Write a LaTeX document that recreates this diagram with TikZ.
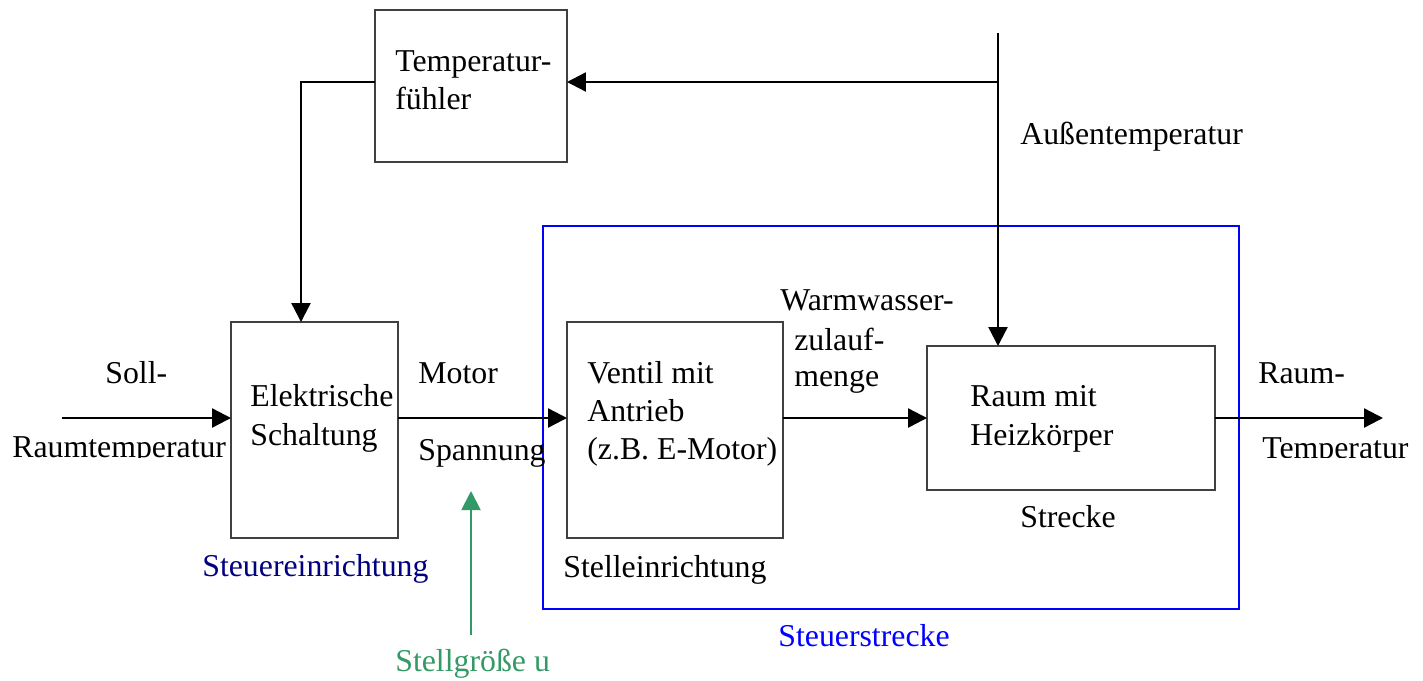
\documentclass[tikz,border=0pt]{standalone}
\usepackage{fontspec}
\setmainfont{Liberation Serif}
\usetikzlibrary{arrows.meta}
\definecolor{stellgruen}{RGB}{51,153,102}
\definecolor{steuerblau}{RGB}{0,0,128}
\definecolor{streckeblau}{RGB}{0,0,255}
\definecolor{rahmengrau}{RGB}{64,64,64}

\begin{document}
\begin{tikzpicture}[x=0.02cm,y=-0.02cm,>={Triangle[length=0.38cm,width=0.38cm]},
  font=\fontsize{18.1}{21.6}\selectfont,
  block/.style={draw=rahmengrau,line width=1.1pt,inner sep=0pt,outer sep=0pt},
  lbl/.style={anchor=base west,inner sep=0pt},
  sig/.style={->,line width=1.3pt}]
\useasboundingbox (0,0) rectangle (1423,680);

% Steuerstrecke
\node[draw=streckeblau,line width=1.1pt,inner sep=0pt,minimum width=13.92cm,minimum height=7.66cm] (strecke) at (891,417.5) {};

% Bloecke
\node[block,minimum width=3.84cm,minimum height=3.04cm] (fuehler) at (471,86) {};
\node[block,minimum width=3.34cm,minimum height=4.32cm] (schalt) at (314.5,430) {};
\node[block,minimum width=4.32cm,minimum height=4.32cm] (ventil) at (675,430) {};
\node[block,minimum width=5.76cm,minimum height=2.88cm] (raum) at (1071,418) {};

% Texte in den Bloecken
\node[lbl] (fuehlerA) at (395,71) {Temperatur-};
\node[lbl] (fuehlerB) at (395,109) {fühler};
\node[lbl] (schaltA) at (250,406) {Elektrische};
\node[lbl] (schaltB) at (250,445) {Schaltung};
\node[lbl] (ventilA) at (587,383) {Ventil mit};
\node[lbl] (ventilB) at (587,421) {Antrieb};
\node[lbl] (ventilC) at (587,459) {(z.B. E-Motor)};
\node[lbl] (raumA) at (970,406) {Raum mit};
\node[lbl] (raumB) at (970,445) {Heizkörper};

% Signale
\node[lbl] (soll) at (105,383) {Soll-};
\node[lbl] (motor) at (418,383) {Motor};
\node[lbl] (spannung) at (418,460) {Spannung};
\node[lbl] (wwA) at (780,310) {Warmwasser-};
\node[lbl] (wwB) at (794,350) {zulauf-};
\node[lbl] (wwC) at (794,386) {menge};
\node[lbl] (istA) at (1258,383) {Raum-};
\node[lbl] (aussen) at (1020,144) {Außentemperatur};
\begin{scope}
  \clip (0,0) rectangle (1423,457);
  \node[lbl] (sollB) at (12,457) {Raumtemperatur};
  \node[lbl] (istB) at (1262,458) {Temperatur};
\end{scope}

% Beschriftungen
\node[lbl] (strLbl) at (1020,527) {Strecke};
\node[lbl] (stellLbl) at (563,577) {Stelleinrichtung};
\node[lbl,text=steuerblau] (steuerLbl) at (202,576) {Steuereinrichtung};
\node[lbl,text=streckeblau] (steuerstrLbl) at (778,646) {Steuerstrecke};
\node[lbl,text=stellgruen] (stellgr) at (395,671) {Stellgröße u};

\coordinate (ein) at (62,418);
\coordinate (aus) at (1383,418);
\coordinate (aussenoben) at (998,33);
\coordinate (abzweig) at (998,82);
\coordinate (knick) at (301,82);
\coordinate (ufuss) at (471,635);
\coordinate (uspitze) at (471,491);

\draw[sig] (ein) -- (ein -| schalt.west);
\draw[sig] (ein -| schalt.east) -- (ein -| ventil.west);
\draw[sig] (raum.west -| ventil.east) -- (raum.west);
\draw[sig] (raum.east) -- (aus);
\draw[sig] (aussenoben) -- (aussenoben |- raum.north);
\draw[sig] (abzweig) -- (abzweig -| fuehler.east);
\draw[sig] (abzweig -| fuehler.west) -- (knick) -- (knick |- schalt.north);
\draw[sig,color=stellgruen,line width=1.1pt] (ufuss) -- (uspitze);
\end{tikzpicture}
\end{document}
